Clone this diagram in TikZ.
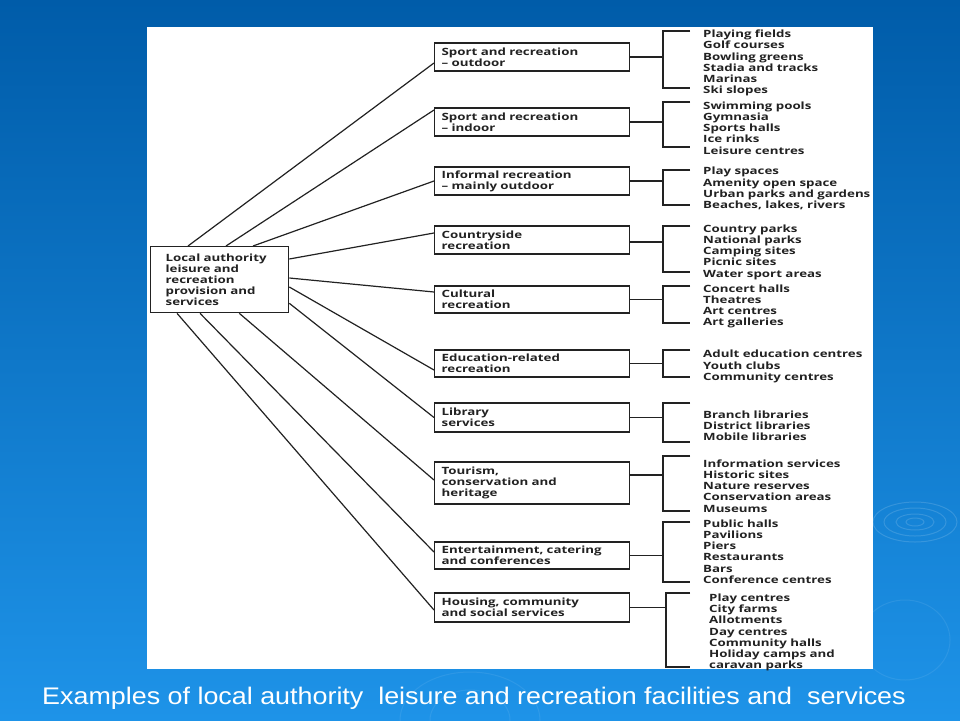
\documentclass[tikz,border=0pt]{standalone}
\usepackage{fontspec}
\setmainfont{Open Sans}
\newfontfamily\dfont{Open Sans}[FakeStretch=1.33]
\newfontfamily\capfont{Liberation Sans}[FakeStretch=1.12]
\definecolor{bgtop}{HTML}{005CA9}
\definecolor{bgbot}{HTML}{1E93E8}
\definecolor{ink}{HTML}{222222}
\newcommand\dtxt{\dfont\fontsize{10}{11.2}\selectfont\bfseries\lineskiplimit=-100pt\relax}
\newcommand\brk[5]{%
  \coordinate (#1k) at ([yshift=#2]#1.east);
  \draw[line] (#1k) -- (#1k -| #5,0);
  \draw[line] (690,#3) -- (#5,#3) -- (#5,#4) -- (690,#4);}
\begin{document}
\begin{tikzpicture}[x=1pt,y=-1pt,
  line/.style={draw=ink, line width=1.2pt},
  txt/.style={font=\dtxt, text=ink},
  catbox/.style={txt, draw=ink, line width=1.3pt, fill=white, anchor=west,
    minimum width=195pt, text width=181pt, inner xsep=7pt, inner ysep=0pt, align=left},
  items/.style={txt, anchor=west, inner sep=0pt, align=left},
  ripple/.style={draw=white, opacity=0.14, line width=1pt}]
\useasboundingbox (0,0) rectangle (960,720);
\shade[top color=bgtop, bottom color=bgbot] (0,0) rectangle (960,720);
% ripples
\draw[ripple] (915,522) ellipse (9 and 4);
\draw[ripple] (915,522) ellipse (19 and 8);
\draw[ripple] (915,522) ellipse (31 and 14);
\draw[ripple] (915,522) ellipse (42 and 20);
\draw[ripple, opacity=0.08] (905,640) ellipse (45 and 40);
\draw[ripple, opacity=0.08] (470,720) ellipse (40 and 30);
\draw[ripple, opacity=0.08] (470,720) ellipse (70 and 48);
% panel
\fill[white] (147,27) rectangle (873,669);
% root
\node[catbox, anchor=north west, minimum width=138pt, text width=108pt, inner xsep=15pt,
  minimum height=66pt] (root) at (150,246)
  {Local authority\\leisure and\\recreation\\provision and\\services};
% categories
\node[catbox, minimum height=28pt] (c1) at (434,57) {Sport and recreation\\– outdoor};
\node[catbox, minimum height=28pt] (c2) at (434,122) {Sport and recreation\\– indoor};
\node[catbox, minimum height=28pt] (c3) at (434,181) {Informal recreation\\– mainly outdoor};
\node[catbox, minimum height=28pt] (c4) at (434,240) {Countryside\\recreation};
\node[catbox, minimum height=27pt] (c5) at (434,299.5) {Cultural\\recreation};
\node[catbox, minimum height=27pt] (c6) at (434,363.5) {Education-related\\recreation};
\node[catbox, minimum height=29pt] (c7) at (434,417.5) {Library\\services};
\node[catbox, minimum height=42pt] (c8) at (434,483) {Tourism,\\conservation and\\heritage};
\node[catbox, minimum height=27pt] (c9) at (434,555.5) {Entertainment, catering\\and conferences};
\node[catbox, minimum height=29pt] (c10) at (434,607.5) {Housing, community\\and social services};
% root connectors
\draw[line] ([xshift=38pt]root.north west) -- ([yshift=-6pt]c1.west);
\draw[line] ([xshift=76pt]root.north west) -- ([yshift=12pt]c2.west);
\draw[line] ([xshift=103pt]root.north west) -- (c3.west);
\draw[line] ([yshift=-13pt]root.north east) -- ([yshift=7pt]c4.west);
\draw[line] ([yshift=-32pt]root.north east) -- ([yshift=7.5pt]c5.west);
\draw[line] ([yshift=-41pt]root.north east) -- ([yshift=-6.5pt]c6.west);
\draw[line] ([yshift=10pt]root.south east) -- (c7.west);
\draw[line] ([xshift=-50pt]root.south east) -- ([yshift=3pt]c8.west);
\draw[line] ([xshift=50pt]root.south west) -- ([yshift=3.5pt]c9.west);
\draw[line] ([xshift=27pt]root.south west) -- ([yshift=-2.5pt]c10.west);
% brackets
\brk{c1}{0pt}{31}{88}{663}
\brk{c2}{0pt}{102}{147}{663}
\brk{c3}{0pt}{170}{205}{663}
\brk{c4}{-2pt}{226}{272}{663}
\brk{c5}{0pt}{286}{323}{663}
\brk{c6}{0pt}{350}{377}{663}
\brk{c7}{0pt}{403}{442}{663}
\brk{c8}{8pt}{456}{511}{663}
\brk{c9}{0pt}{522}{582}{663}
\brk{c10}{0pt}{593}{667}{666}
% items
\node[items] (i1) at (703,63) {Playing fields\\Golf courses\\Bowling greens\\Stadia and tracks\\Marinas\\Ski slopes};
\node[items] (i2) at (703,128) {Swimming pools\\Gymnasia\\Sports halls\\Ice rinks\\Leisure centres};
\node[items] (i3) at (703,188.5) {Play spaces\\Amenity open space\\Urban parks and gardens\\Beaches, lakes, rivers};
\node[items] (i4) at (703,252) {Country parks\\National parks\\Camping sites\\Picnic sites\\Water sport areas};
\node[items] (i5) at (703,306.5) {Concert halls\\Theatres\\Art centres\\Art galleries};
\node[items] (i6) at (703,366.5) {Adult education centres\\Youth clubs\\Community centres};
\node[items] (i7) at (703,425.5) {Branch libraries\\District libraries\\Mobile libraries};
\node[items] (i8) at (703,486) {Information services\\Historic sites\\Nature reserves\\Conservation areas\\Museums};
\node[items] (i9) at (703,551.5) {Public halls\\Pavilions\\Piers\\Restaurants\\Bars\\Conference centres};
\node[items] (i10) at (709,632.5) {Play centres\\City farms\\Allotments\\Day centres\\Community halls\\Holiday camps and\\caravan parks};
% caption
\node[font=\capfont\fontsize{24}{28}\selectfont, text=white, inner sep=0pt] (cap) at (474,698)
  {Examples of local authority\ \ leisure and recreation facilities and\ \ services};
\end{tikzpicture}
\end{document}
